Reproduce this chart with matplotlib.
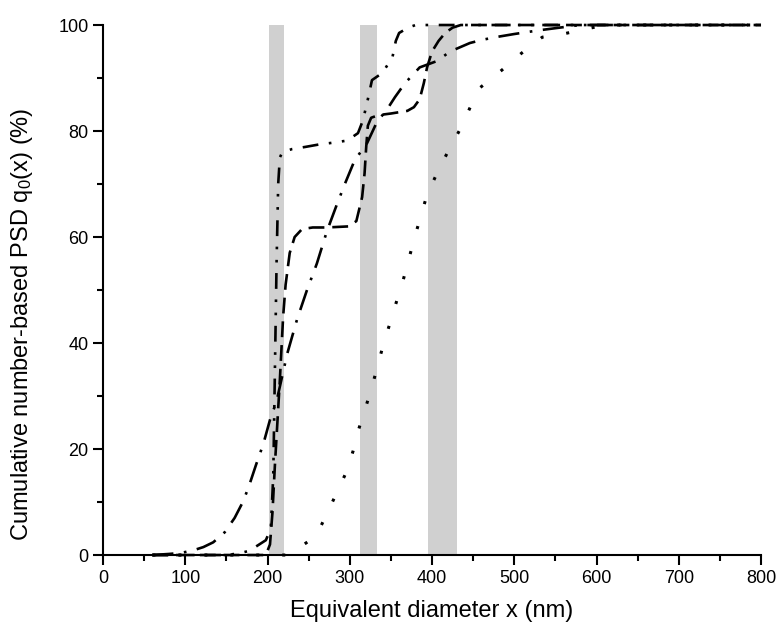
import matplotlib
matplotlib.use('Agg')
import matplotlib.pyplot as plt

plt.rcParams['font.family'] = ['Liberation Sans', 'DejaVu Sans']
plt.rcParams['mathtext.fontset'] = 'custom'
plt.rcParams['mathtext.rm'] = 'Liberation Sans'
plt.rcParams['mathtext.it'] = 'Liberation Sans'

# grey bands (nm)
band_lo = [202, 312, 395]
band_hi = [220, 333, 430]

# dash-dot curve
x_dashdot = [60, 80, 95, 110, 122, 134, 148, 160, 170, 177, 186, 195, 203, 211, 224,
             236, 248, 260, 272, 284, 294, 306, 321, 333, 345, 355, 367, 385, 406,
             422, 446, 461, 477, 500, 530, 560, 580, 800]
y_dashdot = [0, 0.2, 0.4, 0.9, 1.5, 2.4, 4.3, 7, 10, 12.8, 17, 21, 25.5, 29, 38,
             44.5, 50, 55, 61, 66, 70, 74.5, 77.7, 81.7, 84, 86.4, 89, 92, 93.2,
             95, 96.6, 97.2, 97.7, 98.3, 99, 99.6, 100, 100]

# dash-dot-dot curve
x_dashdotdot = [60, 150, 165, 178, 188, 198, 204, 207, 209, 211, 213, 215, 218, 230,
                246, 264, 280, 297, 310, 316, 322, 327, 340, 352, 356, 360, 371, 380, 800]
y_dashdotdot = [0, 0, 0.3, 0.8, 1.8, 2.8, 5, 15, 35, 55, 70, 75, 76, 76.6,
                77, 77.5, 77.8, 78.2, 79.6, 82, 86, 89.6, 91, 94, 97, 98.5, 99.5, 100, 100]

# dashed curve
x_dashed = [60, 198, 203, 206, 209, 212, 215, 219, 222, 227, 233, 242, 255, 272, 298,
            308, 315, 318, 320, 322, 326, 335, 350, 370, 378, 385, 390, 394, 400, 408,
            416, 425, 435, 800]
y_dashed = [0, 0, 2, 8, 17, 25, 33, 45, 51, 57, 60, 61.5, 61.8, 61.8, 62,
            63, 67.5, 72, 77, 81, 82.5, 83, 83.3, 83.8, 84.5, 86, 89, 92, 95, 97,
            98.5, 99.5, 100, 100]

# dotted curve
x_dotted = [60, 225, 236, 259, 272, 284, 296, 304, 311, 319, 327, 334, 341, 349, 357,
            365, 379, 394, 406, 419, 433, 445, 457, 485, 509, 534, 562, 586, 610, 800]
y_dotted = [0, 0, 1.1, 3.6, 7.7, 11.7, 15.7, 19.6, 23.8, 27.7, 31.7, 35.8, 39.8, 43.8, 47.9,
            51.9, 60, 68, 72, 76, 80, 84, 88, 91.5, 94.7, 97.7, 98.4, 99.2, 100, 100]

fig = plt.figure(figsize=(7.81, 6.30), dpi=100)
ax = fig.add_axes([0.1319, 0.119, 0.8425, 0.8413])

for lo, hi in zip(band_lo, band_hi):
    ax.axvspan(lo, hi, color='#d0d0d0', lw=0, zorder=1)

lw = 1.9
ax.plot(x_dashdot, y_dashdot, color='black', lw=lw, ls=(0, (8, 4, 1, 4)), clip_on=False, zorder=3)
ax.plot(x_dashdotdot, y_dashdotdot, color='black', lw=lw, ls=(0, (6, 4, 1, 4, 1, 4)), clip_on=False, zorder=3)
ax.plot(x_dashed, y_dashed, color='black', lw=lw, ls=(0, (6, 3)), clip_on=False, zorder=3)
ax.plot(x_dotted, y_dotted, color='black', lw=lw + 0.3, ls=(0, (1, 7.5)), clip_on=False, zorder=3)

ax.set_xlim(0, 800)
ax.set_ylim(0, 100)
ax.set_xticks(range(0, 801, 100))
ax.set_xticks(range(50, 800, 100), minor=True)
ax.set_yticks(range(0, 101, 20))
ax.set_yticks(range(10, 100, 20), minor=True)

ax.spines['top'].set_visible(False)
ax.spines['right'].set_visible(False)
ax.spines['left'].set_linewidth(1.5)
ax.spines['bottom'].set_linewidth(1.5)
ax.tick_params(which='major', direction='out', length=7, width=1.5, labelsize=13)
ax.tick_params(which='minor', direction='out', length=4.5, width=1.5)

ax.set_xlabel('Equivalent diameter x (nm)', fontsize=17)
ax.set_ylabel(r'Cumulative number-based PSD q$_\mathregular{0}$(x) (%)', fontsize=17)
ax.xaxis.set_label_coords(0.5, -0.084)
ax.yaxis.set_label_coords(-0.103, 0.436)

fig.savefig('out.png', dpi=100)
